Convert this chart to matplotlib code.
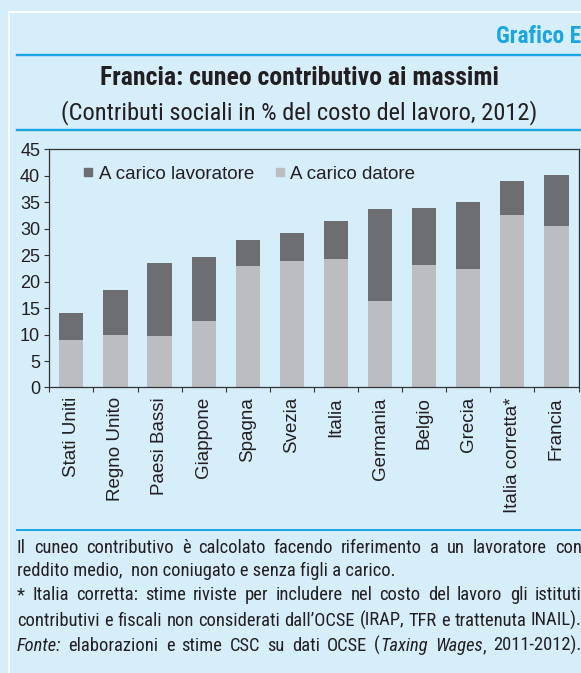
import matplotlib
matplotlib.use('Agg')
import matplotlib.pyplot as plt
from matplotlib import font_manager
from matplotlib.lines import Line2D
import numpy as np

# ---------------- data ----------------
categories = ['Stati Uniti', 'Regno Unito', 'Paesi Bassi', 'Giappone', 'Spagna',
              'Svezia', 'Italia', 'Germania', 'Belgio', 'Grecia',
              'Italia corretta*', 'Francia']
datore = [8.9, 9.9, 9.8, 12.6, 23.0, 23.9, 24.3, 16.4, 23.2, 22.3, 32.6, 30.6]
lavoratore = [5.1, 8.5, 13.8, 12.0, 4.9, 5.2, 7.2, 17.3, 10.8, 12.7, 6.4, 9.5]
series_labels = ['A carico lavoratore', 'A carico datore']
yticks = list(range(0, 46, 5))

title = 'Francia: cuneo contributivo ai massimi'
subtitle = '(Contributi sociali in % del costo del lavoro, 2012)'
tag = 'Grafico E'
note_lines = [
    [[('Il', 0)], [('cuneo', 0)], [('contributivo', 0)], [('è', 0)], [('calcolato', 0)],
     [('facendo', 0)], [('riferimento', 0)], [('a', 0)], [('un', 0)], [('lavoratore', 0)], [('con', 0)]],
    'reddito medio,  non coniugato e senza figli a carico.',
    [[('*', 0)], [('Italia', 0)], [('corretta:', 0)], [('stime', 0)], [('riviste', 0)], [('per', 0)],
     [('includere', 0)], [('nel', 0)], [('costo', 0)], [('del', 0)], [('lavoro', 0)], [('gli', 0)],
     [('istituti', 0)]],
    [[('contributivi', 0)], [('e', 0)], [('fiscali', 0)], [('non', 0)], [('considerati', 0)],
     [('dall’OCSE', 0)], [('(IRAP,', 0)], [('TFR', 0)], [('e', 0)], [('trattenuta', 0)], [('INAIL).', 0)]],
    [[('Fonte:', 1)], [('elaborazioni', 0)], [('e', 0)], [('stime', 0)], [('CSC', 0)], [('su', 0)],
     [('dati', 0)], [('OCSE', 0)], [('(', 0), ('Taxing', 1)], [('Wages', 1), (',', 0)],
     [('2011-2012).', 0)]],
]

# ---------------- style ----------------
W, H = 581, 673
BG = '#d6edfa'
DARK = '#6d6e72'
LIGHT = '#bcbdc1'
BLUE = '#1ba5e3'
TXT = '#231f20'
SPINE = '#333333'

NARROW = ['Roboto Condensed', 'Archivo Narrow', 'Liberation Sans']
SANS = ['Liberation Sans', 'DejaVu Sans']
plt.rcParams['font.family'] = SANS

fig = plt.figure(figsize=(W / 100, H / 100), dpi=100, facecolor=BG)
renderer = fig.canvas.get_renderer()


def fx(px):
    return px / W


def fy(py):
    return 1 - py / H


def twidth(s, **kw):
    t = fig.text(0, 0, s, **kw)
    w = t.get_window_extent(renderer).width
    t.remove()
    return w


def fit_size(s, target, **kw):
    w = twidth(s, fontsize=10, **kw)
    return 10 * target / w


# ---------------- frame decorations ----------------
fig.add_artist(Line2D([fx(9.3), fx(9.3)], [0, fy(12.3)], transform=fig.transFigure,
                      color='white', lw=1.3))
fig.add_artist(Line2D([fx(9.3), 1], [fy(12.3), fy(12.3)], transform=fig.transFigure,
                      color='white', lw=1.3))
for yy, lw in [(54.5, 1.7), (129.5, 1.7), (530, 1.4)]:
    fig.add_artist(Line2D([fx(17), 1], [fy(yy), fy(yy)], transform=fig.transFigure,
                          color=BLUE, lw=lw))

# ---------------- headings ----------------
fs = fit_size(tag, 85, family=NARROW, weight='bold')
fig.text(fx(581.5), fy(43.3), tag, ha='right', va='baseline', family=NARROW,
         weight='bold', fontsize=fs, color=BLUE)
fs = fit_size(title, 399, family=NARROW, weight='bold')
fig.text(fx(299.5), fy(85), title, ha='center', va='baseline', family=NARROW,
         weight='bold', fontsize=fs, color=TXT)
fs = fit_size(subtitle, 473, family=NARROW)
fig.text(fx(299.5), fy(119), subtitle, ha='center', va='baseline', family=NARROW,
         fontsize=fs, color=TXT)

# ---------------- chart ----------------
ax = fig.add_axes([fx(49.3), fy(387.5), (578.5 - 49.3) / W, (387.5 - 149.3) / H])
ax.set_facecolor('none')
x = np.arange(len(categories))
ax.bar(x, datore, 0.55, color=LIGHT, zorder=2)
ax.bar(x, lavoratore, 0.55, bottom=datore, color=DARK, zorder=2)
ax.set_xlim(-0.5, len(categories) - 0.5)
ax.set_ylim(0, 45)
ax.set_yticks(yticks)
ax.set_yticklabels([str(v) for v in yticks], fontsize=13, color=TXT)
ax.set_xticks(np.arange(-0.5, len(categories), 1))
ax.set_xticklabels([])
ax.set_xticks(x, minor=True)
ax.set_xticklabels(categories, minor=True, rotation=90, fontsize=13.5, color=TXT)
ax.tick_params(axis='x', which='minor', length=0, pad=7)
ax.tick_params(axis='x', which='major', length=3.3, width=0.8, color=SPINE, direction='out')
ax.tick_params(axis='y', length=3.6, width=0.8, color=SPINE, pad=3, direction='out')
for sp in ax.spines.values():
    sp.set_color(SPINE)
    sp.set_linewidth(0.9)

handles = [Line2D([], [], marker='s', ls='none', markersize=5.3, color=DARK, mec=DARK),
           Line2D([], [], marker='s', ls='none', markersize=5.3, color=LIGHT, mec=LIGHT)]
ax.legend(handles, series_labels, loc='center left', bbox_to_anchor=(0.0652, 0.896),
          ncol=2, frameon=False, borderpad=0, borderaxespad=0, handlelength=0.5,
          handletextpad=0.31, columnspacing=1.1, prop={'family': SANS, 'size': 13.5},
          labelcolor=TXT)

# ---------------- notes ----------------
right_edge = 581.5
left_edge = 17
line4_plain = ' '.join(''.join(seg for seg, _ in w) for w in note_lines[3])
note_fs = min(fit_size(note_lines[1], 393, family=NARROW),
              fit_size(line4_plain, (right_edge - left_edge) * 0.99, family=NARROW))
baselines = [552.7, 575.7, 600.5, 626, 651]
for line, yb in zip(note_lines, baselines):
    if isinstance(line, str):
        fig.text(fx(left_edge), fy(yb), line, ha='left', va='baseline', family=NARROW,
                 fontsize=note_fs, color=TXT)
        continue
    widths = []
    for word in line:
        widths.append([twidth(seg, family=NARROW, fontsize=note_fs,
                              style='italic' if it else 'normal') for seg, it in word])
    total = sum(sum(w) for w in widths)
    gap = (right_edge - left_edge - total) / (len(line) - 1)
    xpos = left_edge
    for word, ws in zip(line, widths):
        for (seg, it), w in zip(word, ws):
            fig.text(fx(xpos), fy(yb), seg, ha='left', va='baseline', family=NARROW,
                     fontsize=note_fs, style='italic' if it else 'normal', color=TXT)
            xpos += w
        xpos += gap

fig.savefig('out.png', dpi=100, facecolor=BG)
